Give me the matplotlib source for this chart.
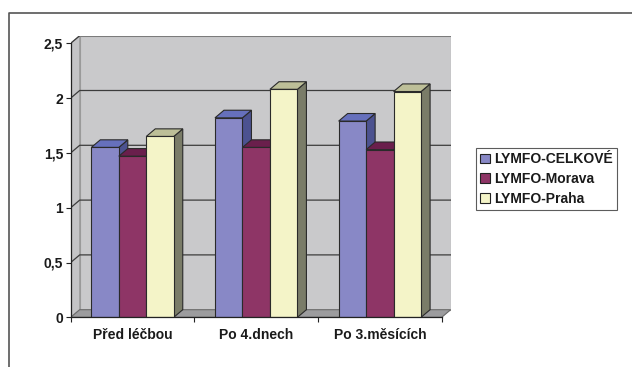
import matplotlib
matplotlib.use("Agg")
import matplotlib.pyplot as plt
from matplotlib.patches import Polygon, Patch
from matplotlib.lines import Line2D

plt.rcParams['font.family'] = ['Liberation Sans', 'DejaVu Sans']
plt.rcParams['font.weight'] = 'bold'
plt.rcParams['font.size'] = 10

categories = ["Před léčbou", "Po 4.dnech", "Po 3.měsících"]
series_names = ["LYMFO-CELKOVÉ", "LYMFO-Morava", "LYMFO-Praha"]
celkove = [1.55, 1.82, 1.79]
morava = [1.47, 1.55, 1.53]
praha = [1.65, 2.08, 2.06]
y_ticks = [0, 0.5, 1, 1.5, 2, 2.5]
y_tick_labels = ["0", "0,5", "1", "1,5", "2", "2,5"]

series_values = [celkove, morava, praha]
face_colors = ["#8888C6", "#8E3566", "#F4F4C8"]
top_colors = ["#6670BC", "#6A1F4C", "#BDBF98"]
side_colors = ["#4C5290", "#5A1A40", "#7A7C68"]

W, H = 632, 367
fig = plt.figure(figsize=(W / 100, H / 100), dpi=100)

# plot area: front plane from x 70.7..441.7 px, y 317.3..43.3 px; depth offset 9px right, 7.6px up
px_per_x = 371 / 3
px_per_y = 274 / 2.5
dx = 9 / px_per_x
dy = 7.6 / px_per_y
ymax = 2.5
ncat = len(categories)

left_px, right_px = 70.7, 70.7 + 371 + 9
bottom_px, top_px = 317.3, 317.3 - 274 - 7.6
ax = fig.add_axes([left_px / W, 1 - bottom_px / H,
                   (right_px - left_px) / W, (bottom_px - top_px) / H])
ax.set_xlim(0, ncat + dx)
ax.set_ylim(0, ymax + dy)
ax.patch.set_visible(False)

edge = "#2a2a2a"
# back wall, side wall, floor
ax.add_patch(Polygon([(dx, dy), (ncat + dx, dy), (ncat + dx, ymax + dy), (dx, ymax + dy)],
                     closed=True, facecolor="#C9C9CB", edgecolor="#9a9a9a", lw=0.8, zorder=0))
ax.add_patch(Polygon([(0, 0), (dx, dy), (dx, ymax + dy), (0, ymax)],
                     closed=True, facecolor="#C4C4C6", edgecolor="#9a9a9a", lw=0.8, zorder=0))
ax.add_patch(Polygon([(0, 0), (ncat, 0), (ncat + dx, dy), (dx, dy)],
                     closed=True, facecolor="#9C9C9E", edgecolor="#6a6a6a", lw=0.8, zorder=0.5))

# gridlines on walls
for v in y_ticks[1:]:
    ax.plot([0, dx, ncat + dx], [v, v + dy, v + dy], color="#3c3c3c", lw=0.9, zorder=0.6)

# bars: gap width 150% of bar width
nser = len(series_values)
bar_w = 1 / (nser + 1.5)
gap_half = 0.75 * bar_w
for g in range(ncat):
    for i, vals in enumerate(series_values):
        v = vals[g]
        x = g + gap_half + i * bar_w
        z = 2 + g * 10 + i * 3
        ax.add_patch(Polygon([(x + bar_w, 0), (x + bar_w + dx, dy), (x + bar_w + dx, v + dy), (x + bar_w, v)],
                             closed=True, facecolor=side_colors[i], edgecolor=edge, lw=0.8, zorder=z))
        ax.add_patch(Polygon([(x, v), (x + bar_w, v), (x + bar_w + dx, v + dy), (x + dx, v + dy)],
                             closed=True, facecolor=top_colors[i], edgecolor=edge, lw=0.8, zorder=z + 1))
        ax.bar([x], [v], width=bar_w, align='edge', color=face_colors[i],
               edgecolor=edge, lw=0.8, zorder=z + 2)

# axes lines
for s in ["top", "right"]:
    ax.spines[s].set_visible(False)
ax.spines["left"].set_bounds(0, ymax)
ax.spines["bottom"].set_bounds(0, ncat)
ax.spines["left"].set_color("#222222")
ax.spines["bottom"].set_color("#222222")
ax.spines["left"].set_linewidth(0.9)
ax.spines["bottom"].set_linewidth(0.9)
ax.spines["bottom"].set_zorder(50)

ax.set_yticks(y_ticks)
ax.set_yticklabels(y_tick_labels)
ax.tick_params(axis='y', direction='out', length=3.5, width=0.8, pad=2, color="#222222",
               labelsize=10, labelcolor="#1a1a1a")

ax.set_xticks(range(ncat + 1))
ax.set_xticklabels([])
ax.set_xticks([c + 0.5 for c in range(ncat)], minor=True)
ax.set_xticklabels(categories, minor=True)
ax.tick_params(axis='x', which='major', direction='out', length=3.5, width=0.8, color="#222222")
ax.tick_params(axis='x', which='minor', length=0, pad=8, labelsize=10, labelcolor="#1a1a1a")

# legend
handles = [Patch(facecolor=face_colors[i], edgecolor="#222222", lw=0.8) for i in range(nser)]
leg = fig.legend(handles, series_names, loc='upper left',
                 bbox_to_anchor=(475.7 / W, 1 - 148.3 / H), bbox_transform=fig.transFigure,
                 fontsize=10, handlelength=0.7, handleheight=0.7, handletextpad=0.3,
                 labelspacing=0.4, borderpad=0.3, borderaxespad=0, fancybox=False,
                 frameon=True, edgecolor="#333333")
leg.get_frame().set_linewidth(0.8)
for t in leg.get_texts():
    t.set_color("#1a1a1a")

# outer chart border (top and left edges visible)
fig.add_artist(Line2D([9 / W, 9 / W, 1.0], [0.0, 1 - 13 / H, 1 - 13 / H],
                      transform=fig.transFigure, color="#555555", lw=1.2))

fig.savefig("out.png", dpi=100, facecolor="white")
